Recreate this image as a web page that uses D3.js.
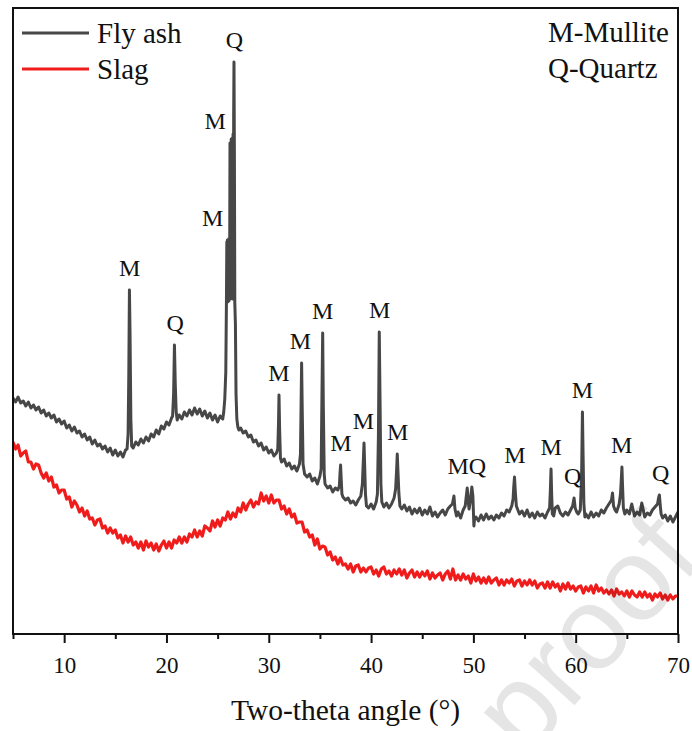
<!DOCTYPE html>
<html>
<head>
<meta charset="utf-8">
<script src="https://cdn.jsdelivr.net/npm/d3@7"></script>
<style>
  html, body { margin: 0; padding: 0; background: #fff; }
  svg { display: block; }
  text.serif { font-family: "Liberation Serif", "Times New Roman", serif; }
  text.mark { font-family: "Liberation Sans", Arial, sans-serif; }
</style>
</head>
<body>
<script>
// XRD patterns, intensity in arbitrary units, 2θ in degrees.

// Fly ash scan: [2θ, intensity] pairs (background plus the crystalline reflections).
const flyAshScan = [
  [5.00,236],[5.25,232],[5.50,237],[5.75,231],[6.00,233],[6.25,228],[6.50,232],[6.75,226],
  [7.00,229],[7.25,224],[7.50,227],[7.75,221],[8.00,224],[8.25,218],[8.50,221],[8.75,216],
  [9.00,219],[9.25,212],[9.50,215],[9.75,210],[10.00,213],[10.25,206],[10.50,209],[10.75,203],
  [11.00,207],[11.25,201],[11.50,203],[11.75,197],[12.00,200],[12.25,194],[12.50,197],[12.75,190],
  [13.00,194],[13.25,188],[13.50,190],[13.75,185],[14.00,188],[14.25,182],[14.50,186],[14.75,179],
  [15.00,184],[15.25,178],[15.50,182],[15.75,177],[16.00,184],
  [16.15,185],[16.25,200],[16.32,260],[16.38,344],[16.44,300],[16.52,215],[16.60,188],
  [16.75,186],[17.00,192],[17.25,189],[17.50,195],[17.75,191],[18.00,197],[18.25,193],[18.50,200],
  [18.75,197],[19.00,204],[19.25,200],[19.50,208],[19.75,205],[20.00,212],[20.25,209],[20.50,216],
  [20.60,218],[20.70,240],[20.78,289],[20.86,250],[20.95,222],[21.05,214],
  [21.25,219],[21.50,215],[21.75,222],[22.00,218],[22.25,224],[22.50,219],[22.75,226],[23.00,220],
  [23.25,225],[23.50,218],[23.75,223],[24.00,216],[24.25,221],[24.50,214],[24.75,219],[25.00,212],
  [25.25,218],[25.50,215],
  [25.60,222],[25.70,235],[25.80,262],[25.86,330],[25.90,392],[25.93,335],[25.96,394],[25.99,332],
  [26.02,393],[26.05,334],[26.08,395],[26.11,333],[26.14,394],[26.17,340],[26.21,491],[26.24,335],
  [26.27,490],[26.30,338],[26.33,495],[26.36,336],[26.39,492],[26.42,340],[26.45,496],[26.48,335],
  [26.51,500],[26.54,345],[26.57,520],[26.60,572],[26.64,480],[26.68,331],[26.74,310],[26.80,240],
  [26.88,215],[26.98,207],[27.08,204],
  [27.25,206],[27.50,201],[27.75,203],[28.00,197],[28.25,199],[28.50,192],[28.75,194],[29.00,188],
  [29.25,191],[29.50,184],[29.75,187],[30.00,181],[30.25,184],[30.50,178],[30.75,181],
  [30.88,185],[30.95,210],[31.00,239],[31.06,205],[31.14,176],
  [31.25,172],[31.50,175],[31.75,168],[32.00,171],[32.25,165],[32.50,168],[32.75,163],[33.00,170],
  [33.10,180],[33.16,230],[33.21,271],[33.27,225],[33.35,170],
  [33.50,160],[33.75,157],[34.00,160],[34.25,153],[34.50,156],[34.75,150],[35.00,158],
  [35.12,165],[35.20,240],[35.27,301],[35.33,230],[35.42,160],
  [35.50,150],[35.75,146],[36.00,148],[36.25,142],[36.50,146],[36.75,144],
  [36.90,148],[36.96,160],[37.02,169],[37.08,155],[37.15,140],
  [37.25,137],[37.50,134],[37.75,136],[38.00,131],[38.25,133],[38.50,129],[38.75,134],
  [39.00,138],[39.15,150],[39.25,175],[39.31,191],[39.37,170],[39.45,140],[39.55,128],
  [39.75,126],[40.00,130],[40.25,125],[40.50,132],
  [40.62,140],[40.72,200],[40.80,302],[40.88,230],[40.96,150],[41.05,132],
  [41.25,127],[41.50,131],[41.75,126],[42.00,130],[42.25,136],
  [42.40,145],[42.50,165],[42.56,180],[42.63,162],[42.72,140],[42.82,128],
  [43.00,125],[43.25,129],[43.50,123],[43.75,127],[44.00,120],[44.25,125],[44.50,121],[44.75,126],
  [45.00,119],[45.25,124],[45.50,120],[45.75,127],[46.00,118],[46.25,122],[46.50,117],[46.75,121],
  [47.00,124],[47.25,119],[47.50,125],[47.75,128],
  [47.95,130],[48.10,138],[48.20,125],
  [48.35,118],[48.50,122],[48.75,116],[49.00,124],
  [49.20,128],[49.40,146],[49.50,132],[49.58,125],[49.70,133],[49.85,147],[49.95,138],[50.05,108],[50.12,116],
  [50.25,117],[50.50,113],[50.75,119],[51.00,114],[51.25,120],[51.50,115],[51.75,118],[52.00,114],
  [52.25,119],[52.50,116],[52.75,121],[53.00,118],[53.25,124],[53.50,122],[53.75,128],
  [53.88,135],[53.95,148],[54.02,157],[54.10,142],[54.20,128],
  [54.35,124],[54.50,120],[54.75,123],[55.00,118],[55.25,124],[55.50,117],[55.75,121],[56.00,116],
  [56.25,122],[56.50,118],[56.75,120],[57.00,116],[57.25,122],
  [57.45,126],[57.53,145],[57.59,165],[57.65,140],[57.72,120],
  [57.85,118],[58.00,126],[58.25,128],[58.50,121],[58.75,118],[59.00,122],[59.25,119],[59.50,124],
  [59.70,128],[59.84,136],[59.95,126],
  [60.10,122],[60.25,120],
  [60.45,124],[60.58,160],[60.66,222],[60.72,180],[60.80,130],[60.90,117],
  [61.00,120],[61.25,116],[61.50,122],[61.75,117],[62.00,121],[62.25,118],[62.50,124],[62.75,121],
  [63.00,126],[63.25,130],
  [63.50,134],[63.60,141],[63.70,128],
  [63.85,124],[64.00,122],[64.25,130],
  [64.38,140],[64.46,155],[64.52,167],[64.58,148],[64.66,126],
  [64.80,120],[65.00,124],[65.25,120],[65.48,130],[65.75,118],[66.00,122],[66.25,119],[66.46,131],
  [66.75,117],[67.00,121],[67.25,119],[67.50,124],[67.75,127],
  [68.00,130],[68.10,136],[68.18,139],[68.27,128],[68.35,120],
  [68.50,116],[68.75,119],[69.00,113],[69.25,118],[69.50,112],[69.75,117],[70.00,122]
];

// Slag scan: uniform step from 5° to 70°.
const slagStart = 5;
const slagStep = 0.25;
const slagCounts = [
  192,185,189,178, 181,183,172,172, 165,170,169,161, 156,161,153,157,
  147,149,141,144, 144,135,137,127, 133,129,122,126, 118,123,115,116,
  109,114,115,106, 108,101,106,101, 104,96,99,91,   98,92,97,89,
  92,86,92,84,     93,87,91,84,     90,83,89,93,     86,92,86,94,
  91,97,91,97,     92,100,97,104,   97,103,98,108,   106,103,113,107,
  114,108,116,114, 122,115,121,117, 126,122,131,124, 130,134,127,132,
  130,141,133,138, 131,139,131,134, 134,125,128,120, 125,117,120,111,
  112,112,102,104, 97,99,89,95,     85,88,87,79,     82,74,77,70,
  76,69,70,65,     70,62,68,69,     62,66,62,66,     67,60,64,58,
  65,67,60,63,     58,64,60,65,     59,64,56,61,     64,57,62,57,
  62,58,63,55,     61,56,59,61,     54,60,63,55,     65,54,59,54,
  60,55,58,51,     60,53,57,51,     56,51,57,51,     54,56,49,54,
  49,54,51,55,     48,53,54,48,     53,49,54,49,     53,46,50,51,
  46,52,46,52,     47,50,43,50,     45,51,45,48,     43,47,48,41,
  47,43,48,41,     49,43,46,41,     44,40,44,38,     45,40,42,38,
  43,37,43,39,     37,42,37,42,     37,40,34,40,     37,41,35,39,
  34,39,35,38,     38
];

// Phase identification: [2θ, phase letter, placement]
const peakLabels = [
  [16.40, "M"], [20.85, "Q"], [25.85, "M", "left"], [26.10, "M", "left"], [26.65, "Q"],
  [31.00, "M"], [33.10, "M"], [35.27, "M"], [37.05, "M"], [39.25, "M"], [40.85, "M"],
  [42.60, "M"], [49.35, "MQ"], [54.05, "M"], [57.60, "M"], [59.70, "Q"], [60.65, "M"],
  [64.50, "M"], [68.30, "Q"]
];

const seriesNames = ["Fly ash", "Slag"];
const seriesColors = ["#474747", "#f01c1c"];
const phaseKey = ["M-Mullite", "Q-Quartz"];
const xTicksMajor = [10, 20, 30, 40, 50, 60, 70];
const xTicksMinor = [5, 15, 25, 35, 45, 55, 65];
const xTitle = "Two-theta angle (°)";
const stampText = "proof";

const W = 692, H = 731;
const plot = { left: 13, right: 678, top: 8, bottom: 634 };

const svg = d3.select("body").append("svg").attr("width", W).attr("height", H);
svg.append("rect").attr("width", W).attr("height", H).attr("fill", "#fff");

const x = d3.scaleLinear().domain([5, 70]).range([plot.left, plot.right]);
const y = d3.scaleLinear().domain([0, 626]).range([plot.bottom, plot.top]);

svg.append("clipPath").attr("id", "plotClip")
  .append("rect")
  .attr("x", plot.left).attr("y", plot.top)
  .attr("width", plot.right - plot.left).attr("height", plot.bottom - plot.top);

const slagScan = slagCounts.map((v, i) => [slagStart + i * slagStep, v]);

const line = d3.line().x(d => x(d[0])).y(d => y(d[1]));

const traces = svg.append("g").attr("clip-path", "url(#plotClip)");
traces.append("path").datum(slagScan)
  .attr("d", line).attr("fill", "none")
  .attr("stroke", seriesColors[1]).attr("stroke-width", 3.2).attr("stroke-linejoin", "round");
traces.append("path").datum(flyAshScan)
  .attr("d", line).attr("fill", "none")
  .attr("stroke", seriesColors[0]).attr("stroke-width", 3).attr("stroke-linejoin", "round");

// Phase letters over the fly ash reflections
function peakTop(theta) {
  const near = flyAshScan.filter(d => Math.abs(d[0] - theta) <= 0.2);
  return d3.max(near, d => d[1]);
}
svg.append("g").selectAll("text").data(peakLabels).join("text")
  .attr("class", "serif")
  .attr("x", d => d[2] === "left" ? x(d[0]) - 3 : x(d[0]))
  .attr("y", d => y(peakTop(d[0])) - 14)
  .attr("text-anchor", d => d[2] === "left" ? "end" : "middle")
  .attr("font-size", 24)
  .attr("fill", "#111")
  .text(d => d[1]);

// Bottom axis: labelled major ticks, unlabelled minor ticks
const axisMajor = d3.axisBottom(x).tickValues(xTicksMajor).tickSize(9).tickSizeOuter(0)
  .tickPadding(14).tickFormat(d3.format("d"));
const axisMinor = d3.axisBottom(x).tickValues(xTicksMinor).tickSize(5).tickSizeOuter(0)
  .tickFormat("");

const gMinor = svg.append("g").attr("transform", `translate(0,${plot.bottom})`).call(axisMinor);
gMinor.select(".domain").remove();
gMinor.selectAll("line").attr("stroke", "#111").attr("stroke-width", 2);

const gMajor = svg.append("g").attr("transform", `translate(0,${plot.bottom})`).call(axisMajor);
gMajor.select(".domain").remove();
gMajor.selectAll("line").attr("stroke", "#111").attr("stroke-width", 2);
gMajor.selectAll("text")
  .attr("class", "serif")
  .attr("font-family", null)
  .attr("font-size", 23).attr("fill", "#111");

// Frame
svg.append("rect")
  .attr("x", plot.left).attr("y", plot.top)
  .attr("width", plot.right - plot.left).attr("height", plot.bottom - plot.top)
  .attr("fill", "none").attr("stroke", "#111").attr("stroke-width", 2);

svg.append("text")
  .attr("class", "serif")
  .attr("x", (plot.left + plot.right) / 2).attr("y", 720)
  .attr("text-anchor", "middle").attr("font-size", 29.5).attr("fill", "#111")
  .text(xTitle);

// Legend
const legend = svg.append("g");
seriesNames.forEach((name, i) => {
  const ly = 33 + i * 36;
  legend.append("line")
    .attr("x1", 22).attr("x2", 89).attr("y1", ly).attr("y2", ly)
    .attr("stroke", seriesColors[i]).attr("stroke-width", 3);
  legend.append("text")
    .attr("class", "serif")
    .attr("x", 97).attr("y", ly + 10)
    .attr("font-size", 29).attr("fill", "#111")
    .text(name);
});

// Phase key
phaseKey.forEach((t, i) => {
  svg.append("text")
    .attr("class", "serif")
    .attr("x", 548).attr("y", 42 + i * 36)
    .attr("font-size", 29).attr("fill", "#111")
    .text(t);
});

// Diagonal stamp across the lower right corner
svg.append("text")
  .attr("class", "mark")
  .attr("transform", "translate(525,760) rotate(-48)")
  .attr("font-size", 118)
  .attr("fill", "#000").attr("fill-opacity", 0.1)
  .text(stampText);
</script>
</body>
</html>
